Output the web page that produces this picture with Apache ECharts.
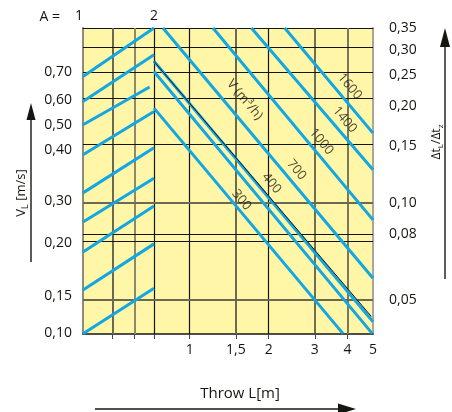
<!DOCTYPE html>
<html>
<head>
<meta charset="utf-8">
<script src="https://cdn.jsdelivr.net/npm/echarts@6/dist/echarts.min.js"></script>
<style>
  html, body { margin: 0; padding: 0; background: #fff; }
  #chart { width: 452px; height: 412px; }
</style>
</head>
<body>
<div id="chart"></div>
<script>
// bottom: throw L [m] (log), right: temperature ratio dtL/dtz (log)
var throwMin = 0.392, throwMax = 5;
var ratioMin = 0.0392, ratioMax = 0.35;
var throwTicks = [1, 1.5, 2, 3, 4, 5];
var throwGrid = [0.507, 0.617, 0.731, 1, 1.5, 2, 3, 4];
var ratioTicks = [0.35, 0.30, 0.25, 0.20, 0.15, 0.10, 0.08, 0.05];
var ratioGrid = [0.305, 0.255, 0.212, 0.152, 0.10, 0.08, 0.0763, 0.05];

// left V_L scale, placed where each value sits on the ratio scale
var vlLabels = ['0,70', '0,60', '0,50', '0,40', '0,30', '0,20', '0,15', '0,10'];
var vlAt = [0.2555, 0.2094, 0.1751, 0.1464, 0.1018, 0.0754, 0.0515, 0.0394];

// top A scale of the left panel
var aMin = 1, aMax = 5.085;
var aTicks = [1, 2];

// A lines, [A, ratio]
var aFrom = [[1, 0.2474], [1, 0.2068], [1, 0.1751], [1, 0.1413], [1, 0.1076],
             [1, 0.0874], [1, 0.0705], [1, 0.0537], [1, 0.0393]];
var aTo = [[2, 0.35], [2, 0.2891], [1.939, 0.2294], [2, 0.1926], [2, 0.1485],
           [2, 0.1195], [2, 0.0980], [2, 0.0747], [2, 0.0544]];

// air volume lines V (m3/h), [L, ratio]
var flowFrom = [[0.731, 0.1973], [0.731, 0.2565], [0.731, 0.2759], [0.791, 0.35],
                [1.227, 0.35], [1.719, 0.35], [2.303, 0.35]];
var flowTo = [[3.843, 0.0393], [4.97, 0.0393], [5, 0.0428], [5, 0.0584],
              [5, 0.0887], [5, 0.1269], [5, 0.165]];
var limitLine = [[0.731, 0.2756], [4.93, 0.0444]];

var flowNames = ['300', '400', '700', '1000', '1400', '1600'];
var flowLabelAt = [[1.575, 0.1023], [2.049, 0.1153], [2.552, 0.1269],
                   [3.179, 0.1553], [3.9, 0.1815], [4.075, 0.2304]];
var flowTitleAt = [1.621, 0.2094];

var BLUE = '#12a6e2';
var INK = '#161610';
var FONT = 'Open Sans';

// line tones for the grid
var throwGridColor = ['#6c6952', '#8c896f', INK, INK, '#6c6952', INK, '#4e4c3b', '#7b7862'];
var throwGridWidth = [2, 2, 1.2, 1.2, 2, 1.2, 1.6, 2];
var ratioGridColor = [INK, INK, INK, INK, '#6c6952', INK, INK, '#6c6952'];
var ratioGridWidth = [1.2, 1.2, 1.2, 1.2, 2, 1.2, 1.2, 2];

function vlText(v) {
    var best = 0;
    for (var i = 1; i < vlAt.length; i++) {
        if (Math.abs(Math.log(vlAt[i] / v)) < Math.abs(Math.log(vlAt[best] / v))) best = i;
    }
    return vlLabels[best];
}
function comma(v) {
    return String(v).replace('.', ',');
}

var gridLines = [];
throwGrid.forEach(function (v, i) {
    gridLines.push({ coords: [[v, ratioMin], [v, ratioMax]],
        lineStyle: { color: throwGridColor[i], width: throwGridWidth[i] } });
});
ratioGrid.forEach(function (v, i) {
    gridLines.push({ coords: [[throwMin, v], [throwMax, v]],
        lineStyle: { color: ratioGridColor[i], width: ratioGridWidth[i] } });
});

var labelData = flowNames.map(function (n, i) {
    return { name: n, value: flowLabelAt[i] };
});
labelData.push({ name: 'V (m³/h)', value: flowTitleAt });

var myChart = echarts.init(document.getElementById('chart'));
var option = {
    animation: false,
    backgroundColor: '#fff',
    textStyle: { fontFamily: FONT },
    grid: {
        left: 83, right: 79, top: 28, bottom: 78,
        show: true, backgroundColor: '#fff6a8', borderWidth: 0,
        outerBoundsMode: 'none'
    },
    xAxis: [{
        type: 'log',
        min: throwMin, max: throwMax,
        position: 'bottom',
        axisLine: { show: true, onZero: false, lineStyle: { color: INK, width: 1.5 } },
        axisTick: { show: true, customValues: throwGrid, length: 5, lineStyle: { color: '#444' } },
        axisLabel: { customValues: throwTicks, formatter: comma, margin: 9, fontSize: 14, color: INK, fontFamily: FONT },
        splitLine: { show: false },
        name: 'Throw L[m]',
        nameLocation: 'middle',
        nameGap: 52,
        nameTextStyle: { fontSize: 15, color: INK, fontFamily: FONT, padding: [0, 0, 0, 24] }
    }, {
        type: 'value',
        min: aMin, max: aMax,
        position: 'top',
        axisLine: { show: true, onZero: false, lineStyle: { color: INK, width: 1.2 } },
        axisTick: { show: false },
        axisLabel: { customValues: aTicks, margin: 5, fontSize: 14, color: INK, fontFamily: FONT, alignMinLabel: 'right' },
        splitLine: { show: false },
        name: 'A =',
        nameLocation: 'start',
        nameGap: 23,
        nameTextStyle: { fontSize: 14, color: INK, fontFamily: FONT, verticalAlign: 'bottom', padding: [0, 0, 4, 0] }
    }],
    yAxis: [{
        type: 'log',
        min: ratioMin, max: ratioMax,
        position: 'left',
        axisLine: { show: true, onZero: false, lineStyle: { color: '#8e8b7c', width: 2 } },
        axisTick: { show: false },
        axisLabel: { customValues: vlAt, formatter: vlText, margin: 11, fontSize: 14, color: INK, fontFamily: FONT },
        splitLine: { show: false },
        name: '{v|V}{s|L} [m/s]',
        nameLocation: 'middle',
        nameRotate: 90,
        nameGap: 53,
        nameTextStyle: {
            color: INK, fontFamily: FONT, fontSize: 13, padding: [0, 24, 0, 0],
            rich: {
                v: { fontSize: 13, color: INK, fontFamily: FONT, lineHeight: 18 },
                s: { fontSize: 9, color: INK, fontFamily: FONT, lineHeight: 18, verticalAlign: 'bottom' }
            }
        }
    }, {
        type: 'log',
        min: ratioMin, max: ratioMax,
        position: 'right',
        axisLine: { show: true, onZero: false, lineStyle: { color: '#a9a79c', width: 2 } },
        axisTick: { show: false },
        axisLabel: { customValues: ratioTicks, formatter: function (v) { return v.toFixed(2).replace('.', ','); },
                     margin: 16, fontSize: 14, color: INK, fontFamily: FONT },
        splitLine: { show: false }
    }],
    graphic: [
        { type: 'line', shape: { x1: 31, y1: 262, x2: 31, y2: 116 }, style: { stroke: INK, lineWidth: 1.4 } },
        { type: 'polygon', shape: { points: [[31, 103], [26.5, 120], [35.5, 120]] }, style: { fill: INK } },
        { type: 'line', shape: { x1: 445, y1: 279, x2: 445, y2: 44 }, style: { stroke: INK, lineWidth: 1.4 } },
        { type: 'polygon', shape: { points: [[445, 28], [440, 47], [450, 47]] }, style: { fill: INK } },
        { type: 'line', shape: { x1: 95, y1: 409, x2: 342, y2: 409 }, style: { stroke: INK, lineWidth: 1.4 } },
        { type: 'polygon', shape: { points: [[356, 409], [338, 403.5], [338, 414.5]] }, style: { fill: INK } },
        {
            type: 'text', x: 437, y: 142, rotation: Math.PI / 2,
            style: {
                text: '{d|Δt}{s|L}/{d|Δt}{s|z}',
                align: 'center', verticalAlign: 'middle',
                fill: INK, font: '12px "Open Sans"',
                rich: {
                    d: { fontSize: 12, fill: INK, fontFamily: FONT, lineHeight: 16 },
                    s: { fontSize: 8, fill: INK, fontFamily: FONT, lineHeight: 16, verticalAlign: 'bottom' }
                }
            }
        }
    ],
    series: [{
        type: 'lines',
        coordinateSystem: 'cartesian2d',
        xAxisIndex: 0, yAxisIndex: 0,
        silent: true, z: 1,
        lineStyle: { opacity: 1 },
        data: gridLines
    }, {
        type: 'lines',
        coordinateSystem: 'cartesian2d',
        xAxisIndex: 1, yAxisIndex: 0,
        silent: true, z: 3,
        lineStyle: { color: BLUE, width: 3, opacity: 1 },
        data: aFrom.map(function (p, i) { return { coords: [p, aTo[i]] }; })
    }, {
        type: 'lines',
        coordinateSystem: 'cartesian2d',
        xAxisIndex: 0, yAxisIndex: 0,
        silent: true, z: 3,
        lineStyle: { color: BLUE, width: 3, opacity: 1 },
        data: flowFrom.map(function (p, i) { return { coords: [p, flowTo[i]] }; })
    }, {
        type: 'lines',
        coordinateSystem: 'cartesian2d',
        xAxisIndex: 0, yAxisIndex: 0,
        silent: true, z: 4,
        lineStyle: { color: '#111', width: 1, opacity: 1 },
        data: [{ coords: limitLine }]
    }, {
        type: 'scatter',
        xAxisIndex: 0, yAxisIndex: 0,
        silent: true, z: 5,
        symbolSize: 0.1,
        itemStyle: { color: 'rgba(0,0,0,0)' },
        label: {
            show: true, position: 'inside', formatter: '{b}', rotate: -50,
            fontSize: 13, color: INK, fontFamily: FONT
        },
        data: labelData
    }]
};
myChart.setOption(option);
</script>
</body>
</html>
